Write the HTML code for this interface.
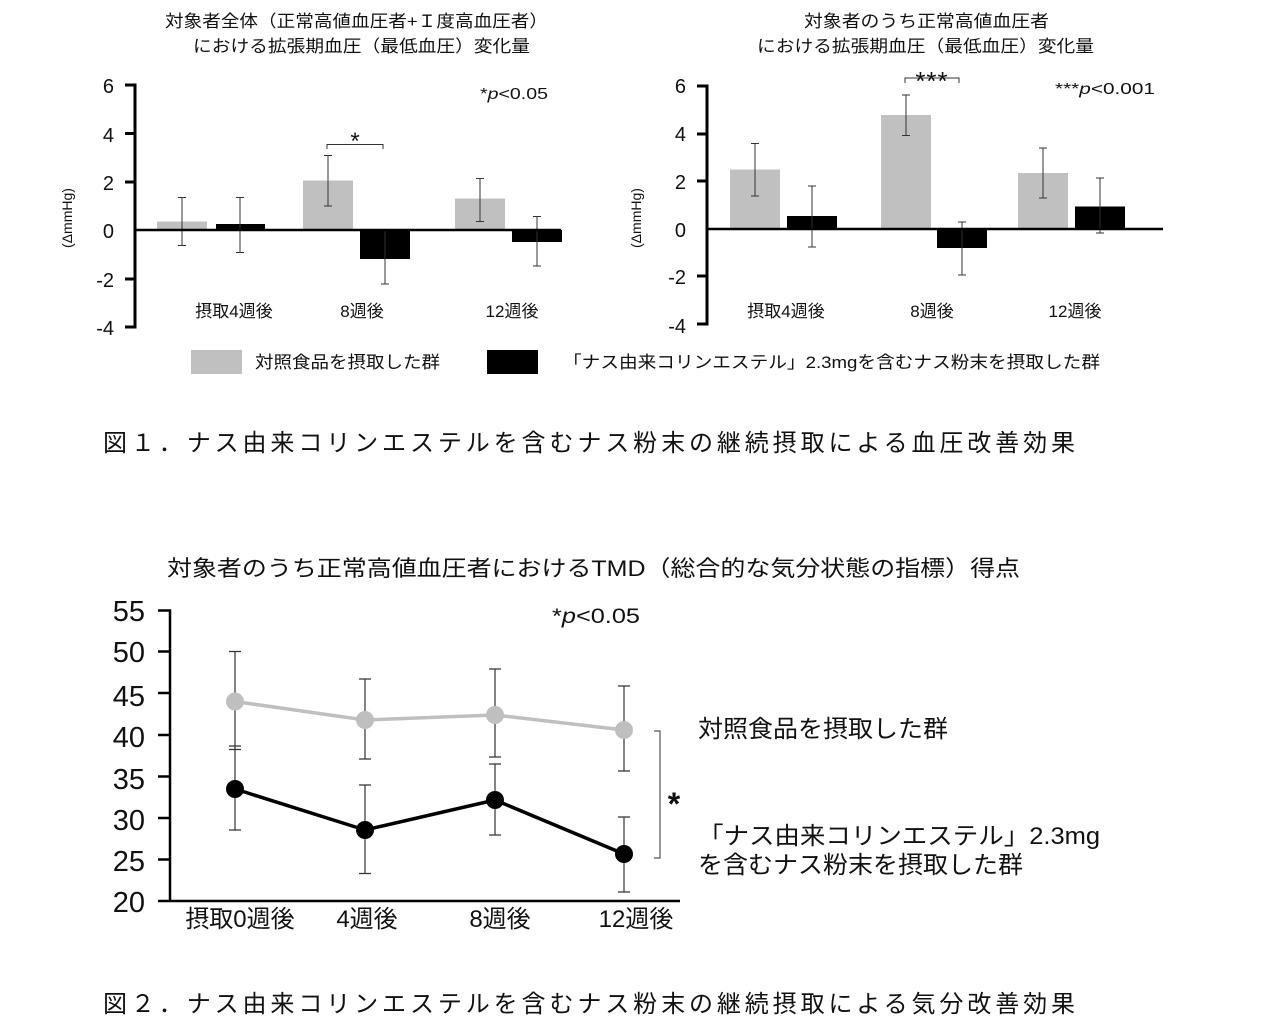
<!DOCTYPE html>
<html><head><meta charset="utf-8"><style>
html,body{margin:0;padding:0;background:#fff;}
svg{display:block;}
text{font-family:"Liberation Sans","Noto Sans CJK JP",sans-serif;fill:#111;}
</style></head><body>
<svg width="1288" height="1036" viewBox="0 0 1288 1036" xmlns="http://www.w3.org/2000/svg">
<!-- Chart 1 -->
<text x="165" y="27" font-size="17" textLength="383" lengthAdjust="spacingAndGlyphs">対象者全体（正常高値血圧者+Ｉ度高血圧者）</text>
<text x="193" y="52" font-size="17" textLength="337" lengthAdjust="spacingAndGlyphs">における拡張期血圧（最低血圧）変化量</text>
<g font-size="20" text-anchor="end">
<text x="114" y="93">6</text><text x="114" y="142">4</text><text x="114" y="190">2</text>
<text x="114" y="238">0</text><text x="114" y="287">-2</text><text x="114" y="335">-4</text>
</g>
<text transform="translate(72,218) rotate(-90)" font-size="14" text-anchor="middle">(ΔmmHg)</text>
<g fill="#c0c0c0"><rect x="157" y="221.5" width="50" height="8.5"/><rect x="303" y="180.5" width="50" height="49.5"/><rect x="455" y="198.5" width="50" height="31.5"/></g>
<g fill="#000"><rect x="216" y="224" width="49" height="6"/><rect x="360" y="230" width="50" height="29"/><rect x="512" y="230" width="50" height="12"/></g>
<g stroke="#333" stroke-width="1">
<path d="M182 197.5V245.5M178 197.5h8M178 245.5h8"/>
<path d="M240 197.5V252.5M236 197.5h8M236 252.5h8"/>
<path d="M328 155.5V206M324 155.5h8M324 206h8"/>
<path d="M385 230V284M381 284h8"/>
<path d="M480 178.5V221.5M476 178.5h8M476 221.5h8"/>
<path d="M537 216.5V266M533 216.5h8M533 266h8"/>
<path d="M327 149V144.5H383V149" fill="none"/>
</g>
<g stroke="#000" stroke-width="3" fill="none"><path d="M125 85H135V327H125M125 133.5H135M125 182H135M125 279H135"/></g>
<path d="M134 230H561" stroke="#000" stroke-width="2.5"/>
<text x="355" y="149" font-size="24" text-anchor="middle">*</text>
<text x="480" y="99" font-size="16" textLength="68" lengthAdjust="spacingAndGlyphs">*<tspan font-style="italic">p</tspan>&lt;0.05</text>
<g font-size="17" text-anchor="middle"><text x="234" y="317">摂取4週後</text><text x="362" y="317">8週後</text><text x="512" y="317">12週後</text></g>

<!-- Chart 2 -->
<text x="804" y="27" font-size="17" textLength="245" lengthAdjust="spacingAndGlyphs">対象者のうち正常高値血圧者</text>
<text x="757" y="52" font-size="17" textLength="337" lengthAdjust="spacingAndGlyphs">における拡張期血圧（最低血圧）変化量</text>
<g font-size="20" text-anchor="end">
<text x="686" y="93">6</text><text x="686" y="141">4</text><text x="686" y="189">2</text>
<text x="686" y="237">0</text><text x="686" y="284">-2</text><text x="686" y="333">-4</text>
</g>
<text transform="translate(641,218) rotate(-90)" font-size="14" text-anchor="middle">(ΔmmHg)</text>
<g fill="#c0c0c0"><rect x="730" y="169.5" width="50" height="59.5"/><rect x="881" y="115" width="50" height="114"/><rect x="1018" y="173" width="50" height="56"/></g>
<g fill="#000"><rect x="787" y="216" width="50" height="13"/><rect x="937" y="229" width="50" height="19"/><rect x="1075" y="206.5" width="50" height="22.5"/></g>
<g stroke="#333" stroke-width="1">
<path d="M755 143.5V196M751 143.5h8M751 196h8"/>
<path d="M812 186V247M808 186h8M808 247h8"/>
<path d="M906 95V135.5M902 95h8M902 135.5h8"/>
<path d="M962 222V275M958 222h8M958 275h8"/>
<path d="M1043 148V198M1039 148h8M1039 198h8"/>
<path d="M1100 178V233M1096 178h8M1096 233h8"/>
<path d="M905 83V78H959V83" fill="none"/>
</g>
<g stroke="#000" stroke-width="3" fill="none"><path d="M697 86H707V324H697M697 134H707M697 181H707M697 276H707"/></g>
<path d="M706 229H1163" stroke="#000" stroke-width="2.5"/>
<text x="932" y="90" font-size="26" text-anchor="middle" letter-spacing="1">***</text>
<text x="1055" y="94" font-size="16" textLength="100" lengthAdjust="spacingAndGlyphs">***<tspan font-style="italic">p</tspan>&lt;0.001</text>
<g font-size="17" text-anchor="middle"><text x="786" y="317">摂取4週後</text><text x="932" y="317">8週後</text><text x="1075" y="317">12週後</text></g>

<!-- Legend 1 -->
<rect x="191" y="350" width="51" height="24" fill="#c0c0c0"/>
<text x="255" y="368" font-size="17" textLength="185" lengthAdjust="spacingAndGlyphs">対照食品を摂取した群</text>
<rect x="487" y="350" width="51" height="24" fill="#000"/>
<text x="563" y="368" font-size="17" textLength="537" lengthAdjust="spacingAndGlyphs">「ナス由来コリンエステル」2.3mgを含むナス粉末を摂取した群</text>

<text x="103" y="451" font-size="24" textLength="972" lengthAdjust="spacing" fill="#222">図１．ナス由来コリンエステルを含むナス粉末の継続摂取による血圧改善効果</text>

<!-- Chart 3 -->
<text x="167" y="576" font-size="22" textLength="853" lengthAdjust="spacingAndGlyphs">対象者のうち正常高値血圧者におけるTMD（総合的な気分状態の指標）得点</text>
<g font-size="29" text-anchor="end">
<text x="145" y="621">55</text><text x="145" y="662">50</text><text x="145" y="706">45</text>
<text x="145" y="747">40</text><text x="145" y="789">35</text><text x="145" y="830">30</text>
<text x="145" y="871">25</text><text x="145" y="912">20</text>
</g>
<g stroke="#000" stroke-width="2.5" fill="none">
<path d="M158 610.5H170V901M158 651.5H170M158 693H170M158 735H170M158 776.5H170M158 818H170M158 859.5H170"/>
<path d="M158 901H680"/>
</g>
<g stroke="#333" stroke-width="1.2">
<path d="M235 651.5V749.5M229 651.5h12M229 749.5h12"/>
<path d="M365 679V759M359 679h12M359 759h12"/>
<path d="M495 669V757M489 669h12M489 757h12"/>
<path d="M624 686V771M618 686h12M618 771h12"/>
<path d="M235 746V830M229 746h12M229 830h12"/>
<path d="M365 785V873.5M359 785h12M359 873.5h12"/>
<path d="M495 764V835M489 764h12M489 835h12"/>
<path d="M624 817V892M618 817h12M618 892h12"/>
</g>
<polyline points="235,701.5 365,720 495,715 624,730" fill="none" stroke="#bfbfbf" stroke-width="3.5"/>
<g fill="#bfbfbf"><circle cx="235" cy="701.5" r="9"/><circle cx="365" cy="720" r="9"/><circle cx="495" cy="715" r="9"/><circle cx="624" cy="730" r="9"/></g>
<polyline points="235,789 365,830 495,800 624,854" fill="none" stroke="#000" stroke-width="3.5"/>
<g fill="#000"><circle cx="235" cy="789" r="9"/><circle cx="365" cy="830" r="9"/><circle cx="495" cy="800" r="9"/><circle cx="624" cy="854" r="9"/></g>
<path d="M654 731H660V858H654" fill="none" stroke="#555" stroke-width="1.2"/>
<text x="674" y="815" font-size="32" font-weight="bold" text-anchor="middle">*</text>
<text x="552" y="623" font-size="21" textLength="88" lengthAdjust="spacingAndGlyphs">*<tspan font-style="italic">p</tspan>&lt;0.05</text>
<g font-size="24" text-anchor="middle"><text x="240" y="927">摂取0週後</text><text x="367" y="927">4週後</text><text x="500" y="927">8週後</text><text x="636" y="927">12週後</text></g>
<text x="698" y="737" font-size="24" textLength="250" lengthAdjust="spacingAndGlyphs">対照食品を摂取した群</text>
<text x="698" y="844" font-size="24" textLength="402" lengthAdjust="spacingAndGlyphs">「ナス由来コリンエステル」2.3mg</text>
<text x="698" y="873" font-size="24" textLength="325" lengthAdjust="spacingAndGlyphs">を含むナス粉末を摂取した群</text>

<text x="103" y="1012" font-size="24" textLength="972" lengthAdjust="spacing" fill="#222">図２．ナス由来コリンエステルを含むナス粉末の継続摂取による気分改善効果</text>
</svg>
</body></html>
